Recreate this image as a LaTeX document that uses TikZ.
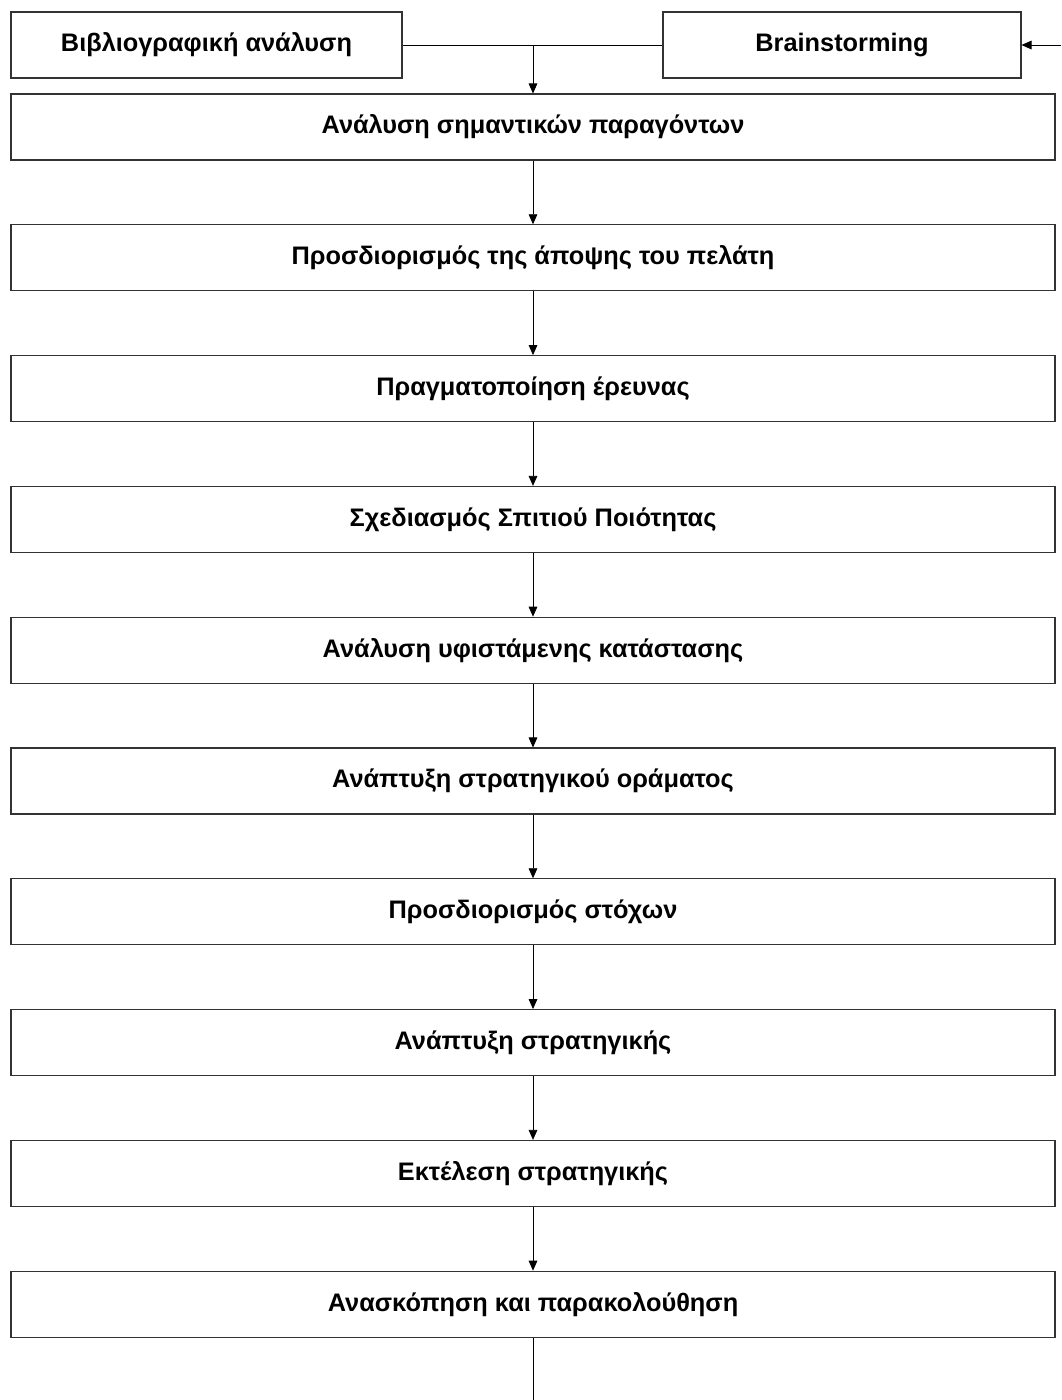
\documentclass[tikz,border=0pt]{standalone}
\usepackage{fontspec}
\setmainfont{Liberation Sans}
\usetikzlibrary{arrows.meta}
\begin{document}
\begin{tikzpicture}[x=0.75pt,y=-0.75pt,
  box/.style={draw=black!80,line width=0.8pt,fill=white,inner sep=0pt,
    minimum height=49.5pt,font=\bfseries\fontsize{19pt}{22pt}\selectfont},
  mainbox/.style={box,minimum width=783pt},
  link/.style={draw=black,line width=0.6pt},
  arr/.style={link,-{Triangle[width=6.5pt,length=7.5pt]}}]
\useasboundingbox (0,0) rectangle (1061,1400);

% top row
\node[box,minimum width=293.25pt] (bib) at (206.5,45) {Βιβλιογραφική ανάλυση};
\node[box,minimum width=268.5pt] (brain) at (842,45) {Brainstorming};

% main chain of steps
\foreach \i/\t in {1/Ανάλυση σημαντικών παραγόντων,
                   2/Προσδιορισμός της άποψης του πελάτη,
                   3/Πραγματοποίηση έρευνας,
                   4/Σχεδιασμός Σπιτιού Ποιότητας,
                   5/Ανάλυση υφιστάμενης κατάστασης,
                   6/Ανάπτυξη στρατηγικού οράματος,
                   7/Προσδιορισμός στόχων,
                   8/Ανάπτυξη στρατηγικής,
                   9/Εκτέλεση στρατηγικής,
                   10/Ανασκόπηση και παρακολούθηση}
  \node[mainbox] (s\i) at (533,{127+130.8*(\i-1)}) {\t};

% connectors
\coordinate (join) at (533,45);
\coordinate (feed) at (1061,45);
\coordinate (out) at (533,1400);
\draw[link] (bib.east) -- (brain.west);
\draw[arr] (join) -- (s1.north);
\draw[arr] (feed) -- (brain.east);
\foreach \i [evaluate=\i as \j using int(\i+1)] in {1,...,9}
  \draw[arr] (s\i.south) -- (s\j.north);
\draw[link] (s10.south) -- (out);
\end{tikzpicture}
\end{document}
